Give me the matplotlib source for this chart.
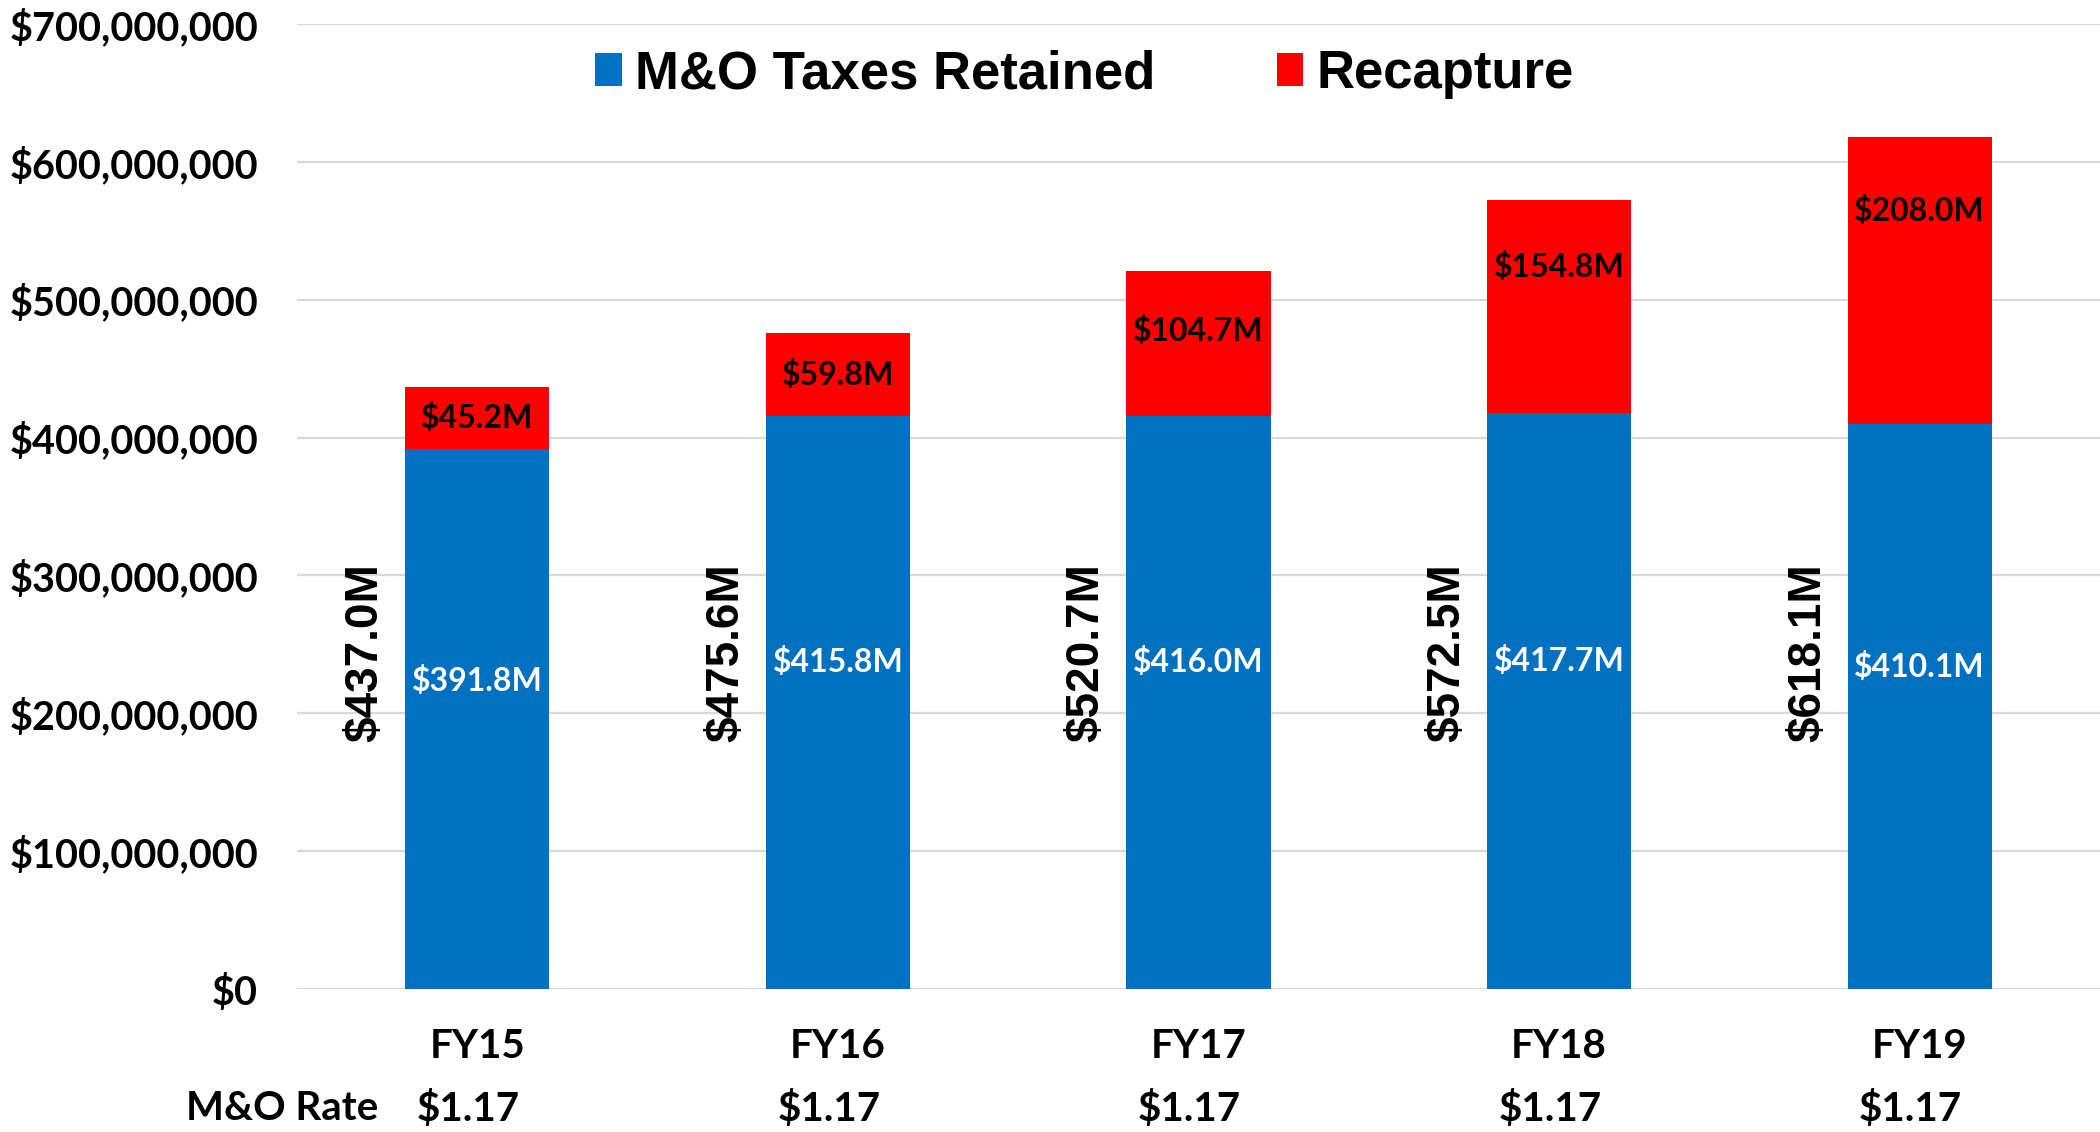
import matplotlib
matplotlib.use("Agg")
import matplotlib.pyplot as plt
from matplotlib.patches import Patch
from matplotlib.ticker import FuncFormatter

categories = ["FY15", "FY16", "FY17", "FY18", "FY19"]
retained = [391.8, 415.8, 416.0, 417.7, 410.1]   # $M
recapture = [45.2, 59.8, 104.7, 154.8, 208.0]    # $M
totals = [437.0, 475.6, 520.7, 572.5, 618.1]     # $M
rates = ["$1.17", "$1.17", "$1.17", "$1.17", "$1.17"]
yticks = [0, 100, 200, 300, 400, 500, 600, 700]

BLUE = "#0070C0"
RED = "#FF0000"
CAL = "Lato"
ARI = "Liberation Sans"

fig = plt.figure(figsize=(21, 11.32), dpi=100)
ax = fig.add_axes([297 / 2100, 143 / 1132, 1 - 297 / 2100, (989 - 24) / 1132])

x = list(range(len(categories)))
w = 0.4
ax.bar(x, retained, width=w, color=BLUE, zorder=3)
ax.bar(x, recapture, width=w, bottom=retained, color=RED, zorder=3)

ax.set_xlim(-0.5, 4.5)
ax.set_ylim(0, 700)
ax.set_yticks(yticks)
ax.yaxis.set_major_formatter(FuncFormatter(lambda v, p: "$0" if v == 0 else f"${int(v * 1e6):,}"))
ax.grid(axis="y", color="#D9D9D9", linewidth=1.6, zorder=0)
ax.set_axisbelow(True)
for s in ax.spines.values():
    s.set_visible(False)
ax.tick_params(axis="y", length=0, pad=28)
ax.tick_params(axis="x", length=0)
for lab in ax.get_yticklabels():
    lab.set_fontfamily(CAL)
    lab.set_fontweight("bold")
    lab.set_fontsize(28.5)
ax.set_xticks([])

trans = ax.get_xaxis_transform()
for i, c in enumerate(categories):
    ax.text(i, -0.060, c, transform=trans, ha="center", va="center",
            fontfamily=CAL, fontweight="bold", fontsize=29)
    ax.text(i - 0.025, -0.124, rates[i], transform=trans, ha="center", va="center",
            fontfamily=CAL, fontweight="bold", fontsize=29)
ax.text(-0.542, -0.124, "M&O Rate", transform=trans, ha="center", va="center",
        fontfamily=CAL, fontweight="bold", fontsize=29)

for i in x:
    # retained label (white)
    ax.text(i, retained[i] * 0.57, f"${retained[i]:.1f}M", ha="center", va="center",
            color="white", fontfamily=CAL, fontweight="bold", fontsize=23, zorder=4)
    # recapture label (black)
    top = retained[i] + recapture[i]
    yl = top - min(recapture[i] / 2, 33 + 0.1 * recapture[i])
    ax.text(i, yl, f"${recapture[i]:.1f}M", ha="center", va="center",
            color="black", fontfamily=CAL, fontweight="bold", fontsize=23, zorder=4)
    # total label (rotated)
    ax.text(i - 0.31, 244, f"${totals[i]:.1f}M", ha="center", va="center", rotation=90,
            color="black", fontfamily=ARI, fontweight="bold", fontsize=33, zorder=4)

handles = [Patch(facecolor=BLUE, edgecolor="none", label="M&O Taxes Retained"),
           Patch(facecolor=RED, edgecolor="none", label="Recapture")]
ax.legend(handles=handles, loc="center", bbox_to_anchor=(0.4368, 0.948), ncol=2,
          frameon=False, handlelength=0.5, handleheight=0.6, handletextpad=0.25,
          columnspacing=2.3, prop={"family": ARI, "weight": "bold", "size": 38})

fig.savefig("out.png", dpi=100, facecolor="white")
